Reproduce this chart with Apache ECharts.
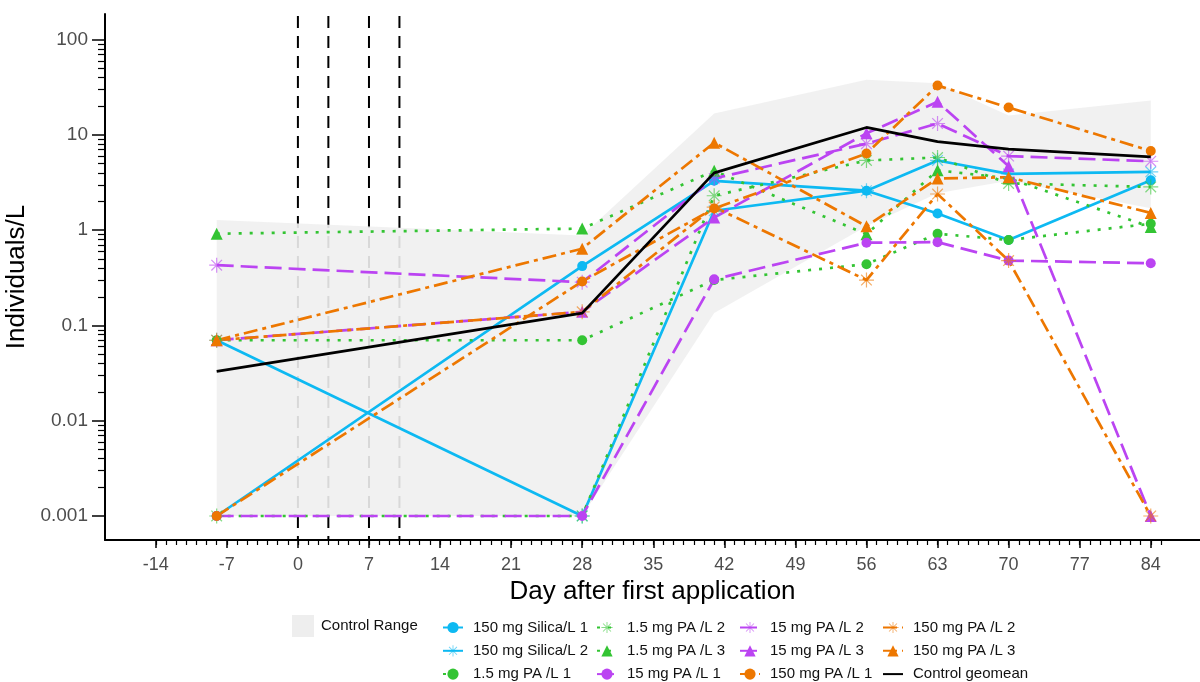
<!DOCTYPE html>
<html><head><meta charset="utf-8">
<script src="https://cdn.jsdelivr.net/npm/echarts@6/dist/echarts.min.js"></script>
<style>html,body{margin:0;padding:0;background:#fff}#c{width:1200px;height:682px}</style>
</head><body><div id="c"></div>
<script>
// ---- data ----
const days = [-8, 28, 41, 56, 63, 70, 84];
const silica1 = [0.001, 0.42, 3.3, 2.6, 1.5, 0.79, 3.35];
const silica2 = [0.07, 0.001, 1.6, 2.6, 5.4, 3.9, 4.1];
const pa1_5_1 = [0.07, 0.07, 0.30, 0.44, 0.92, 0.79, 1.17];
const pa1_5_2 = [0.001, 0.001, 2.3, 5.4, 5.8, 3.1, 2.85];
const pa1_5_3 = [0.92, 1.04, 4.2, 0.91, 4.26, 3.5, 1.08];
const pa15_1 = [0.001, 0.001, 0.305, 0.74, 0.75, 0.48, 0.45];
const pa15_2 = [0.43, 0.285, 3.5, 8.1, 13.2, 6.0, 5.3];
const pa15_3 = [0.07, 0.139, 1.36, 10.4, 22.3, 4.7, 0.001];
const pa150_1 = [0.001, 0.29, 1.69, 6.4, 33, 19.4, 6.8];
const pa150_2 = [0.07, 0.139, 1.75, 0.30, 2.4, 0.48, 0.001];
const pa150_3 = [0.07, 0.64, 8.3, 1.1, 3.5, 3.6, 1.52];
const controlGeomean = [0.033, 0.135, 4.0, 12, 8.5, 7.1, 5.9];
const bandDays = [-8, 28, 41, 56, 63, 70, 84];
const bandUpper = [1.28, 0.88, 16.8, 38, 35, 16, 23];
const bandLower = [0.001, 0.001, 0.135, 1.1, 2.45, 3.3, 1.7];
const applicationDays = [0, 3, 7, 10];
const xTickDays = [-14, -7, 0, 7, 14, 21, 28, 35, 42, 49, 56, 63, 70, 77, 84];
const xTickLabels = ['-14', '-7', '0', '7', '14', '21', '28', '35', '42', '49', '56', '63', '70', '77', '84'];
const yTickValues = [0.001, 0.01, 0.1, 1, 10, 100];
const yTickLabels = ['0.001', '0.01', '0.1', '1', '10', '100'];
const names = ['150 mg Silica/L 1', '150 mg Silica/L 2', '1.5 mg PA /L 1', '1.5 mg PA /L 2', '1.5 mg PA /L 3',
  '15 mg PA /L 1', '15 mg PA /L 2', '15 mg PA /L 3', '150 mg PA /L 1', '150 mg PA /L 2', '150 mg PA /L 3', 'Control geomean'];

// ---- layout / style ----
const X_MIN = -19, X_MAX = 88.85;
const Y_MIN = -3.252, Y_MAX = 2.27;
const FONT = 'Liberation Sans, Arial, sans-serif';
const CYAN = '#0DB9F2', GREEN = '#33C433', PURPLE = '#BB44F2', ORANGE = '#ED7700';
const ASTER = 'path://M0 9.2L20 9.2L20 10.8L0 10.8Z M9.2 0L10.8 0L10.8 20L9.2 20Z M3.5 2.35L17.65 16.5L16.5 17.65L2.35 3.5Z M17.65 3.5L3.5 17.65L2.35 16.5L16.5 2.35Z';

const lg = v => Math.log10(v);
const xMinor = [];
for (let d = -14; d <= 85; d++) xMinor.push(d);
const yMinor = [];
yTickValues.slice(0, 5).forEach(b => { for (let k = 2; k <= 9; k++) yMinor.push(lg(b * k)); });

const DOTTED = [3, 8], DASHED = [17, 7], DASHDOT = [14, 5, 4, 5];
function mk(name, vals, color, dash, symbol, z) {
  const isAst = symbol === 'aster';
  return {
    type: 'line', name, z: z || 5,
    data: days.map((d, i) => [d, lg(vals[i])]),
    symbol: symbol === 'none' ? 'none' : (isAst ? ASTER : symbol),
    symbolSize: symbol === 'circle' ? 10 : (symbol === 'triangle' ? 12 : 15),
    showSymbol: symbol !== 'none',
    itemStyle: { color: color, opacity: isAst ? 0.6 : 1 },
    lineStyle: { color: color, width: 2.7, type: dash, cap: 'butt' },
    emphasis: { disabled: true },
    clip: false
  };
}

const series = [
  { type: 'custom', name: 'appl', z: 1, silent: true,
    data: applicationDays.map(d => [d, 0]),
    renderItem(params, api) {
      const x = api.value(0);
      const p1 = api.coord([x, Y_MAX]);
      const p2 = api.coord([x, Y_MIN]);
      return { type: 'line', shape: { x1: p1[0], y1: p1[1] + 2, x2: p2[0], y2: p2[1] },
        style: { stroke: '#000', lineWidth: 2, lineDash: [12, 8] } };
    } },
  { type: 'custom', name: 'Control Range', z: 2, silent: true,
    itemStyle: { color: '#eeeeee' },
    data: [[bandDays[0], 0]],
    renderItem(params, api) {
      const pts = [];
      for (let i = 0; i < bandDays.length; i++) pts.push(api.coord([bandDays[i], lg(bandUpper[i])]));
      for (let i = bandDays.length - 1; i >= 0; i--) pts.push(api.coord([bandDays[i], lg(bandLower[i])]));
      return { type: 'polygon', shape: { points: pts }, style: { fill: 'rgba(240,240,240,0.9)' } };
    } },
  mk(names[0], silica1, CYAN, 'solid', 'circle'),
  mk(names[1], silica2, CYAN, 'solid', 'aster'),
  mk(names[2], pa1_5_1, GREEN, DOTTED, 'circle'),
  mk(names[3], pa1_5_2, GREEN, DOTTED, 'aster'),
  mk(names[4], pa1_5_3, GREEN, DOTTED, 'triangle'),
  mk(names[5], pa15_1, PURPLE, DASHED, 'circle'),
  mk(names[6], pa15_2, PURPLE, DASHED, 'aster'),
  mk(names[7], pa15_3, PURPLE, DASHED, 'triangle'),
  mk(names[8], pa150_1, ORANGE, DASHDOT, 'circle'),
  mk(names[9], pa150_2, ORANGE, DASHDOT, 'aster'),
  mk(names[10], pa150_3, ORANGE, DASHDOT, 'triangle'),
  mk(names[11], controlGeomean, '#000000', 'solid', 'none', 6)
];

const legendBase = {
  orient: 'vertical', padding: 0, itemWidth: 20, itemHeight: 14, itemGap: 8.3,
  selectedMode: false,
  textStyle: { fontFamily: FONT, fontSize: 15, color: '#111', padding: [0, 0, 0, 5] }
};

const option = {
  animation: false,
  backgroundColor: '#ffffff',
  textStyle: { fontFamily: FONT },
  grid: { left: 105, right: 0, top: 14, bottom: 142, containLabel: false, outerBoundsMode: 'none' },
  xAxis: [
    { type: 'value', min: X_MIN, max: X_MAX, position: 'bottom',
      name: 'Day after first application', nameLocation: 'middle', nameGap: 37,
      nameTextStyle: { fontFamily: FONT, fontSize: 26, color: '#000' },
      axisLine: { show: true, onZero: false, lineStyle: { color: '#000', width: 2 } },
      axisTick: { show: true, length: 8, lineStyle: { color: '#000', width: 1.5 }, customValues: xTickDays },
      axisLabel: { show: true, customValues: xTickDays, margin: 16, fontFamily: FONT, fontSize: 18, color: '#4d4d4d',
        formatter: v => xTickLabels[xTickDays.indexOf(Math.round(v))] },
      splitLine: { show: false } },
    { type: 'value', min: X_MIN, max: X_MAX, position: 'bottom',
      axisLine: { show: false, onZero: false },
      axisTick: { show: true, length: 5, lineStyle: { color: '#000', width: 1.2 }, customValues: xMinor },
      axisLabel: { show: false }, splitLine: { show: false } }
  ],
  yAxis: [
    { type: 'value', min: Y_MIN, max: Y_MAX, position: 'left',
      name: 'Individuals/L', nameLocation: 'middle', nameGap: 62, nameRotate: 90,
      nameTextStyle: { fontFamily: FONT, fontSize: 26, color: '#000' },
      axisLine: { show: true, onZero: false, lineStyle: { color: '#000', width: 2 } },
      axisTick: { show: true, length: 13, lineStyle: { color: '#000', width: 1.5 }, customValues: yTickValues.map(lg) },
      axisLabel: { show: true, customValues: yTickValues.map(lg), margin: 17, fontFamily: FONT, fontSize: 19, color: '#4d4d4d',
        formatter: v => yTickLabels[Math.round(v) + 3] },
      splitLine: { show: false } },
    { type: 'value', min: Y_MIN, max: Y_MAX, position: 'left',
      axisLine: { show: false, onZero: false },
      axisTick: { show: true, length: 7, lineStyle: { color: '#000', width: 1.2 }, customValues: yMinor },
      axisLabel: { show: false }, splitLine: { show: false } }
  ],
  legend: [
    { padding: 0, left: 292, top: 615, itemWidth: 22, itemHeight: 22, selectedMode: false,
      data: [{ name: 'Control Range', icon: 'rect', itemStyle: { color: '#eeeeee' } }],
      textStyle: { fontFamily: FONT, fontSize: 15, color: '#111', padding: [0, 0, 0, 2] } },
    Object.assign({}, legendBase, { left: 442, top: 620, data: names.slice(0, 3) }),
    Object.assign({}, legendBase, { left: 596, top: 620, data: names.slice(3, 6) }),
    Object.assign({}, legendBase, { left: 739, top: 620, data: names.slice(6, 9) }),
    Object.assign({}, legendBase, { left: 882, top: 620,
      data: [names[9], names[10], { name: names[11], itemStyle: { opacity: 0 } }] })
  ],
  series: series
};

const chart = echarts.init(document.getElementById('c'), null, { renderer: 'canvas' });
chart.setOption(option);
</script>
</body></html>
